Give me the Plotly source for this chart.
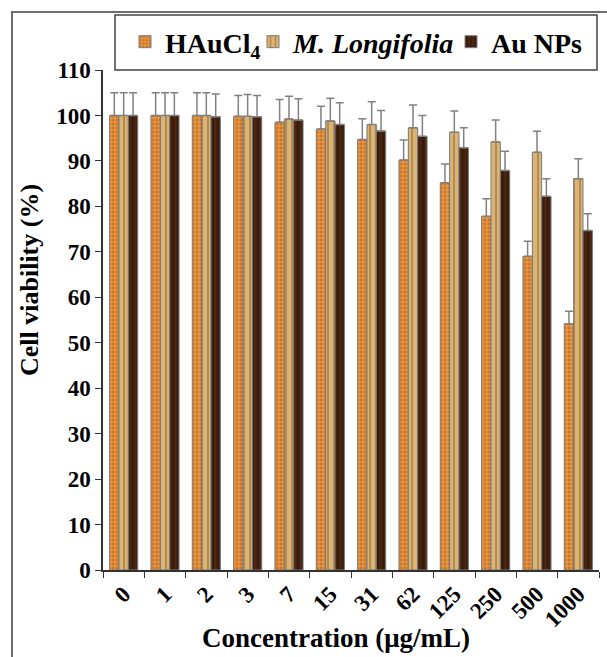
import plotly.graph_objects as go

categories = ["0", "1", "2", "3", "7", "15", "31", "62", "125", "250", "500", "1000"]

haucl4 = [100, 100, 100, 99.8, 98.5, 97.0, 94.7, 90.2, 85.2, 77.8, 69.0, 54.2]
haucl4_err = [5.0, 5.0, 5.0, 4.6, 5.0, 5.0, 4.6, 4.4, 4.1, 3.9, 3.3, 2.7]

longifolia = [100, 100, 100, 99.8, 99.2, 98.8, 98.0, 97.3, 96.3, 94.2, 91.9, 86.1]
longifolia_err = [5.0, 5.0, 5.0, 4.8, 5.0, 5.0, 5.0, 5.0, 4.7, 4.8, 4.6, 4.4]

aunps = [100, 100, 99.7, 99.7, 99.0, 98.0, 96.6, 95.4, 92.9, 87.9, 82.2, 74.7]
aunps_err = [5.0, 5.0, 5.0, 4.7, 4.7, 4.8, 4.5, 4.6, 4.4, 4.2, 3.9, 3.7]

series = [
    ("HAuCl<sub>4</sub>", haucl4, haucl4_err, "#e8953f", "#a9561c", ".", 4, 0.45, "legend"),
    ("<i>M. Longifolia</i>", longifolia, longifolia_err, "#d9b474", "#8a5724", "|", 6, 0.3, "legend2"),
    ("Au NPs", aunps, aunps_err, "#3b1d0d", "#633418", "|", 5, 0.35, "legend3"),
]

FONT = "Liberation Serif, Times New Roman, serif"

fig = go.Figure()
for name, vals, errs, bg, fg, shp, sz, sol, leg in series:
    fig.add_trace(go.Bar(
        x=categories, y=vals, name=name, legend=leg, showlegend=True,
        marker=dict(color=bg, line=dict(color="#7a7a7a", width=1),
                    pattern=dict(shape=shp, fgcolor=fg, bgcolor=bg, size=sz, solidity=sol)),
        error_y=dict(type="data", array=errs, arrayminus=[0] * len(errs), symmetric=False,
                     color="#808080", thickness=1.5, width=4),
    ))

L, R, T, B = 103, 8, 70, 87
W, H = 607, 657
pw, ph = W - L - R, H - T - B

def px(x):
    return (x - L) / pw

def py(y):
    return (H - B - y) / ph

legfont = dict(family=FONT, size=28, color="black", weight="bold")
legcommon = dict(orientation="h", font=legfont, bgcolor="rgba(0,0,0,0)", borderwidth=0,
                 xanchor="left", yanchor="middle", y=py(42))

fig.update_layout(
    width=W, height=H,
    margin=dict(l=L, r=R, t=T, b=B),
    paper_bgcolor="white", plot_bgcolor="white",
    showlegend=True,
    barmode="group", bargap=0.32, bargroupgap=0,
    font=dict(family=FONT, color="black"),
    legend=dict(x=px(125), **legcommon),
    legend2=dict(x=px(253), **legcommon),
    legend3=dict(x=px(451), **legcommon),
    xaxis=dict(
        type="category", showline=True, linecolor="#333", linewidth=1.5,
        ticks="outside", tickson="boundaries", ticklen=6, tickcolor="#333",
        tickangle=-45, showgrid=False,
        tickfont=dict(family=FONT, size=23, color="black", weight="bold"),
    ),
    yaxis=dict(
        range=[0, 110], dtick=10, showline=True, linecolor="#333", linewidth=1.5,
        ticks="outside", ticklen=6, tickcolor="#333", showgrid=False, zeroline=False,
        tickfont=dict(family=FONT, size=23, color="black", weight="bold"),
    ),
    shapes=[
        dict(type="rect", xref="paper", yref="paper",
             x0=px(12), x1=px(640), y0=py(720), y1=py(12),
             line=dict(color="#6e6e6e", width=2), fillcolor="rgba(0,0,0,0)", layer="below"),
        dict(type="rect", xref="paper", yref="paper",
             x0=px(115), x1=px(597), y0=py(70), y1=py(15),
             line=dict(color="#444", width=1.5), fillcolor="white", layer="below"),
    ],
    annotations=[
        dict(text="Cell viability (%)", xref="paper", yref="paper", x=px(29), y=py(280),
             textangle=-90, showarrow=False, xanchor="center", yanchor="middle",
             font=dict(family=FONT, size=26, color="black", weight="bold")),
        dict(text="Concentration (μg/mL)", xref="paper", yref="paper", x=px(336), y=py(638),
             showarrow=False, xanchor="center", yanchor="middle",
             font=dict(family=FONT, size=27, color="black", weight="bold")),
    ],
)

fig.write_html("out.html", config={"displayModeBar": False},
               post_script="document.body.style.margin='0';document.body.style.overflow='hidden';")
